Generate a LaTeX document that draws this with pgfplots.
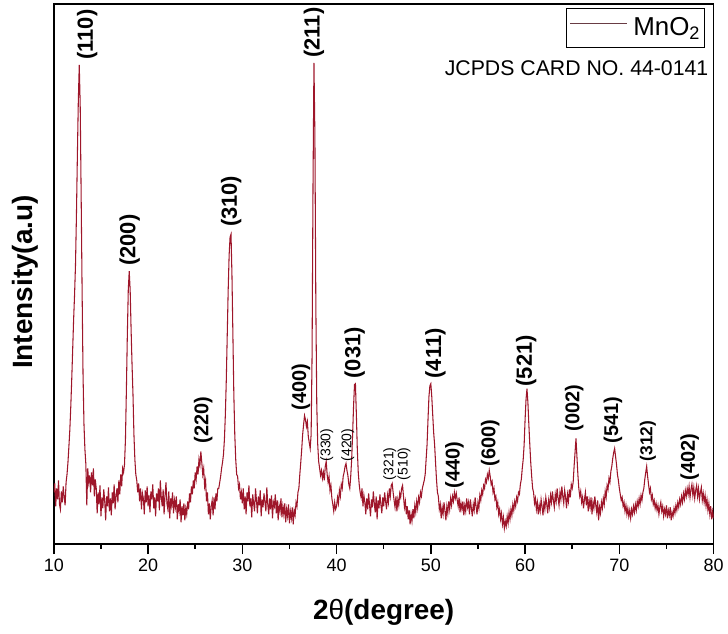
\documentclass[border=0pt]{standalone}
\usepackage{pgfplots}
\pgfplotsset{compat=1.18}
\usepackage{fontspec}
\setmainfont{Liberation Sans}
\definecolor{xrd}{RGB}{158,22,42}
\definecolor{legline}{RGB}{105,60,68}

\begin{document}
\begin{tikzpicture}[
  big/.style={rotate=90, anchor=west, inner sep=0pt, font=\bfseries\fontsize{16.5}{18}\selectfont},
  mid/.style={rotate=90, anchor=west, inner sep=0pt, font=\bfseries\fontsize{15}{17}\selectfont},
  sml/.style={rotate=90, anchor=west, inner sep=0pt, font=\bfseries\fontsize{13}{15}\selectfont},
  tny/.style={rotate=90, anchor=west, inner sep=0pt, font=\fontsize{10.5}{12}\selectfont},
]
\begin{axis}[
  name=ax,
  scale only axis,
  width=496.5pt, height=406.5pt,
  xmin=10, xmax=80, ymin=0, ymax=5420,
  xtick={10,20,...,80}, minor x tick num=1,
  ytick=\empty,
  tick pos=left, tick align=outside,
  major tick length=7.5pt, minor tick length=3.5pt,
  tick style={line width=1.1pt, black},
  axis line style={line width=1.3pt},
  /pgf/number format/assume math mode=true,
  ticklabel style={font=\fontsize{13.5}{16}\selectfont},
  xlabel={\bfseries 2{\mdseries θ}(degree)},
  ylabel={\bfseries Intensity(a.u)},
  label style={font=\fontsize{21}{24}\selectfont},
  xlabel style={at={(axis description cs:0.5,-0.127)}, anchor=center},
  ylabel style={at={(axis description cs:-0.0438,0.4852)}, anchor=center},
  legend style={at={(0.9864,0.9926)}, anchor=north east, draw=black,
    line width=0.6pt, font=\fontsize{19.5}{22}\selectfont,
    inner xsep=3pt, inner ysep=7pt,
    nodes={inner sep=0pt}},
  legend image code/.code={%
    \draw[legline, line width=0.5pt] (0pt,0.35em) -- (43pt,0.35em);
    \path (47pt,0.35em);},
]
\addplot[xrd, line width=0.8pt, mark=none] coordinates {
(10.0,520) (10.1,610) (10.2,380) (10.3,560) (10.4,450) (10.5,640) (10.6,400) (10.7,350) (10.8,530) (10.9,420)
(11.0,580) (11.1,470) (11.2,390) (11.3,620) (11.4,700) (11.5,820) (11.6,980) (11.7,1150) (11.8,1380) (11.9,1650)
(12.0,1950) (12.1,2250) (12.2,2500) (12.3,2800) (12.4,3300) (12.5,3900) (12.6,4450) (12.7,4810) (12.8,4400) (12.9,3500)
(13.0,2550) (13.1,1700) (13.2,1200) (13.3,950) (13.4,800) (13.5,390) (13.6,760) (13.7,620) (13.8,690) (13.9,520)
(14.0,720) (14.1,590) (14.2,760) (14.3,480) (14.4,650) (14.5,560) (14.6,310) (14.7,520) (14.8,400) (14.9,590)
(15.0,280) (15.1,470) (15.2,360) (15.3,550) (15.4,430) (15.5,240) (15.6,480) (15.7,380) (15.8,570) (15.9,330)
(16.0,460) (16.1,290) (16.2,520) (16.3,410) (16.4,600) (16.5,350) (16.6,480) (16.7,560) (16.8,420) (16.9,640)
(17.0,500) (17.1,700) (17.2,580) (17.3,760) (17.4,720) (17.5,800) (17.6,1050) (17.7,1550) (17.8,2100) (17.9,2550)
(18.0,2740) (18.1,2550) (18.2,2150) (18.3,1800) (18.4,1500) (18.5,1100) (18.6,850) (18.7,700) (18.8,640) (18.9,520)
(19.0,610) (19.1,430) (19.2,560) (19.3,350) (19.4,510) (19.5,460) (19.6,300) (19.7,540) (19.8,420) (19.9,580)
(20.0,380) (20.1,490) (20.2,320) (20.3,530) (20.4,450) (20.5,600) (20.6,360) (20.7,470) (20.8,280) (20.9,510)
(21.0,430) (21.1,560) (21.2,340) (21.3,640) (21.4,470) (21.5,380) (21.6,550) (21.7,300) (21.8,490) (21.9,620)
(22.0,410) (22.1,350) (22.2,530) (22.3,260) (22.4,460) (22.5,390) (22.6,520) (22.7,310) (22.8,440) (22.9,370)
(23.0,480) (23.1,250) (23.2,400) (23.3,330) (23.4,450) (23.5,220) (23.6,380) (23.7,290) (23.8,410) (23.9,240)
(24.0,360) (24.1,300) (24.2,430) (24.3,350) (24.4,510) (24.5,420) (24.6,580) (24.7,500) (24.8,640) (24.9,560)
(25.0,720) (25.1,650) (25.2,780) (25.3,700) (25.4,850) (25.5,790) (25.6,930) (25.7,820) (25.8,700) (25.9,760)
(26.0,580) (26.1,640) (26.2,430) (26.3,520) (26.4,300) (26.5,410) (26.6,250) (26.7,380) (26.8,440) (26.9,290)
(27.0,470) (27.1,350) (27.2,510) (27.3,430) (27.4,560) (27.5,560) (27.6,620) (27.7,680) (27.8,760) (27.9,820)
(28.0,900) (28.1,1050) (28.2,1300) (28.3,1650) (28.4,2100) (28.5,2550) (28.6,2900) (28.7,3080) (28.8,3110) (28.9,2700)
(29.0,2100) (29.1,1500) (29.2,1100) (29.3,850) (29.4,700) (29.5,680) (29.6,560) (29.7,600) (29.8,450) (29.9,520)
(30.0,410) (30.1,560) (30.2,350) (30.3,480) (30.4,300) (30.5,520) (30.6,430) (30.7,590) (30.8,380) (30.9,460)
(31.0,270) (31.1,500) (31.2,410) (31.3,330) (31.4,560) (31.5,440) (31.6,310) (31.7,480) (31.8,390) (31.9,540)
(32.0,280) (32.1,450) (32.2,370) (32.3,510) (32.4,420) (32.5,330) (32.6,570) (32.7,400) (32.8,300) (32.9,460)
(33.0,350) (33.1,490) (33.2,260) (33.3,420) (33.4,380) (33.5,500) (33.6,310) (33.7,440) (33.8,240) (33.9,390)
(34.0,330) (34.1,460) (34.2,270) (34.3,380) (34.4,300) (34.5,410) (34.6,220) (34.7,350) (34.8,280) (34.9,400)
(35.0,210) (35.1,330) (35.2,260) (35.3,370) (35.4,200) (35.5,340) (35.6,290) (35.7,420) (35.8,380) (35.9,520)
(36.0,560) (36.1,700) (36.2,820) (36.3,950) (36.4,1100) (36.5,1200) (36.6,1290) (36.7,1250) (36.8,1180) (36.9,1230)
(37.0,1080) (37.1,1020) (37.2,960) (37.3,1100) (37.4,1900) (37.5,3600) (37.6,4830) (37.7,4100) (37.8,2400) (37.9,1400)
(38.0,1000) (38.1,830) (38.2,760) (38.3,690) (38.4,740) (38.5,660) (38.6,720) (38.7,640) (38.8,780) (38.9,830)
(39.0,700) (39.1,620) (39.2,680) (39.3,540) (39.4,590) (39.5,460) (39.6,400) (39.7,330) (39.8,420) (39.9,350)
(40.0,380) (40.1,470) (40.2,410) (40.3,540) (40.4,480) (40.5,600) (40.6,560) (40.7,680) (40.8,720) (40.9,780)
(41.0,810) (41.1,740) (41.2,690) (41.3,600) (41.4,560) (41.5,680) (41.6,850) (41.7,1100) (41.8,1380) (41.9,1600)
(42.0,1610) (42.1,1300) (42.2,950) (42.3,720) (42.4,600) (42.5,520) (42.6,470) (42.7,560) (42.8,380) (42.9,490)
(43.0,420) (43.1,300) (43.2,460) (43.3,350) (43.4,510) (43.5,390) (43.6,280) (43.7,450) (43.8,370) (43.9,530)
(44.0,410) (44.1,320) (44.2,480) (44.3,250) (44.4,440) (44.5,360) (44.6,500) (44.7,400) (44.8,310) (44.9,470)
(45.0,380) (45.1,520) (45.2,430) (45.3,350) (45.4,490) (45.5,420) (45.6,560) (45.7,480) (45.8,590) (45.9,610)
(46.0,520) (46.1,440) (46.2,370) (46.3,480) (46.4,330) (46.5,450) (46.6,390) (46.7,510) (46.8,470) (46.9,560)
(47.0,590) (47.1,480) (47.2,370) (47.3,430) (47.4,300) (47.5,380) (47.6,250) (47.7,340) (47.8,200) (47.9,300)
(48.0,230) (48.1,350) (48.2,260) (48.3,390) (48.4,320) (48.5,430) (48.6,360) (48.7,470) (48.8,420) (48.9,520)
(49.0,480) (49.1,560) (49.2,600) (49.3,640) (49.4,700) (49.5,850) (49.6,1000) (49.7,1250) (49.8,1480) (49.9,1590)
(50.0,1610) (50.1,1480) (50.2,1300) (50.3,1120) (50.4,1000) (50.5,820) (50.6,650) (50.7,520) (50.8,480) (50.9,350)
(51.0,400) (51.1,260) (51.2,370) (51.3,300) (51.4,420) (51.5,330) (51.6,240) (51.7,380) (51.8,310) (51.9,430)
(52.0,350) (52.1,460) (52.2,390) (52.3,480) (52.4,430) (52.5,520) (52.6,460) (52.7,510) (52.8,440) (52.9,380)
(53.0,470) (53.1,320) (53.2,410) (53.3,350) (53.4,430) (53.5,290) (53.6,390) (53.7,330) (53.8,460) (53.9,370)
(54.0,420) (54.1,300) (54.2,450) (54.3,360) (54.4,280) (54.5,400) (54.6,340) (54.7,470) (54.8,380) (54.9,300)
(55.0,420) (55.1,360) (55.2,490) (55.3,440) (55.4,540) (55.5,500) (55.6,590) (55.7,560) (55.8,650) (55.9,620)
(56.0,700) (56.1,660) (56.2,740) (56.3,680) (56.4,600) (56.5,630) (56.6,520) (56.7,560) (56.8,450) (56.9,480)
(57.0,370) (57.1,420) (57.2,300) (57.3,350) (57.4,250) (57.5,310) (57.6,200) (57.7,270) (57.8,160) (57.9,230)
(58.0,180) (58.1,280) (58.2,210) (58.3,320) (58.4,250) (58.5,350) (58.6,290) (58.7,400) (58.8,340) (58.9,430)
(59.0,380) (59.1,470) (59.2,430) (59.3,520) (59.4,500) (59.5,600) (59.6,650) (59.7,760) (59.8,850) (59.9,1000)
(60.0,1250) (60.1,1450) (60.2,1560) (60.3,1420) (60.4,1200) (60.5,1000) (60.6,820) (60.7,680) (60.8,560) (60.9,520)
(61.0,410) (61.1,460) (61.2,350) (61.3,420) (61.4,300) (61.5,390) (61.6,330) (61.7,450) (61.8,380) (61.9,290)
(62.0,420) (62.1,350) (62.2,470) (62.3,400) (62.4,310) (62.5,440) (62.6,370) (62.7,490) (62.8,420) (62.9,530)
(63.0,440) (63.1,370) (63.2,500) (63.3,430) (63.4,560) (63.5,460) (63.6,390) (63.7,520) (63.8,450) (63.9,580)
(64.0,480) (64.1,410) (64.2,540) (64.3,470) (64.4,360) (64.5,500) (64.6,430) (64.7,550) (64.8,470) (64.9,600)
(65.0,560) (65.1,620) (65.2,780) (65.3,920) (65.4,1060) (65.5,880) (65.6,700) (65.7,560) (65.8,480) (65.9,530)
(66.0,420) (66.1,470) (66.2,360) (66.3,450) (66.4,520) (66.5,390) (66.6,480) (66.7,330) (66.8,440) (66.9,370)
(67.0,470) (67.1,300) (67.2,420) (67.3,360) (67.4,480) (67.5,390) (67.6,320) (67.7,440) (67.8,240) (67.9,370)
(68.0,310) (68.1,420) (68.2,360) (68.3,460) (68.4,400) (68.5,530) (68.6,470) (68.7,590) (68.8,550) (68.9,660)
(69.0,620) (69.1,730) (69.2,780) (69.3,860) (69.4,920) (69.5,960) (69.6,880) (69.7,800) (69.8,700) (69.9,640)
(70.0,560) (70.1,500) (70.2,440) (70.3,470) (70.4,380) (70.5,420) (70.6,330) (70.7,390) (70.8,300) (70.9,360)
(71.0,280) (71.1,340) (71.2,260) (71.3,350) (71.4,300) (71.5,380) (71.6,320) (71.7,400) (71.8,340) (71.9,430)
(72.0,380) (72.1,460) (72.2,400) (72.3,490) (72.4,440) (72.5,520) (72.6,560) (72.7,650) (72.8,720) (72.9,780)
(73.0,680) (73.1,600) (73.2,520) (73.3,560) (73.4,450) (73.5,490) (73.6,400) (73.7,440) (73.8,360) (73.9,410)
(74.0,340) (74.1,390) (74.2,300) (74.3,370) (74.4,420) (74.5,330) (74.6,380) (74.7,280) (74.8,350) (74.9,300)
(75.0,390) (75.1,260) (75.2,340) (75.3,290) (75.4,370) (75.5,240) (75.6,320) (75.7,280) (75.8,360) (75.9,310)
(76.0,390) (76.1,340) (76.2,420) (76.3,370) (76.4,450) (76.5,400) (76.6,480) (76.7,420) (76.8,510) (76.9,450)
(77.0,540) (77.1,480) (77.2,560) (77.3,500) (77.4,580) (77.5,470) (77.6,550) (77.7,600) (77.8,490) (77.9,570)
(78.0,460) (78.1,540) (78.2,590) (78.3,480) (78.4,560) (78.5,450) (78.6,520) (78.7,570) (78.8,440) (78.9,510)
(79.0,420) (79.1,490) (79.2,380) (79.3,450) (79.4,340) (79.5,410) (79.6,300) (79.7,380) (79.8,250) (79.9,330)
(80.0,260)
};
\addlegendentry{MnO\textsubscript{2}}

% Miller indices of the reflections
\node[big] at (axis cs:13.55,4860) {(110)};
\node[big] at (axis cs:18.04,2790) {(200)};
\node[mid] at (axis cs:25.86,1010) {(220)};
\node[big] at (axis cs:28.82,3180) {(310)};
\node[mid] at (axis cs:36.22,1340) {(400)};
\node[big] at (axis cs:37.60,4880) {(211)};
\node[tny] at (axis cs:38.97,830) {(330)};
\node[tny] at (axis cs:41.19,830) {(420)};
\node[big] at (axis cs:41.93,1660) {(031)};
\node[tny] at (axis cs:45.65,640) {(321)};
\node[tny] at (axis cs:47.15,640) {(510)};
\node[big] at (axis cs:50.50,1660) {(411)};
\node[mid] at (axis cs:52.51,560) {(440)};
\node[mid] at (axis cs:56.31,780) {(600)};
\node[big] at (axis cs:60.12,1580) {(521)};
\node[mid] at (axis cs:65.20,1130) {(002)};
\node[mid] at (axis cs:69.32,1010) {(541)};
\node[sml] at (axis cs:73.02,830) {(312)};
\node[mid] at (axis cs:77.46,640) {(402)};

\node[anchor=east, inner sep=0pt, font=\fontsize{16}{19}\selectfont]
  at (axis description cs:0.9924,0.8819) {JCPDS CARD NO. 44-0141};

\coordinate (SW) at (rel axis cs:0,0);
\coordinate (NE) at (rel axis cs:1,1);
\end{axis}
\path ([xshift=-40.5pt,yshift=-67.5pt]SW) rectangle ([xshift=9pt,yshift=3pt]NE);
\end{tikzpicture}
\end{document}
